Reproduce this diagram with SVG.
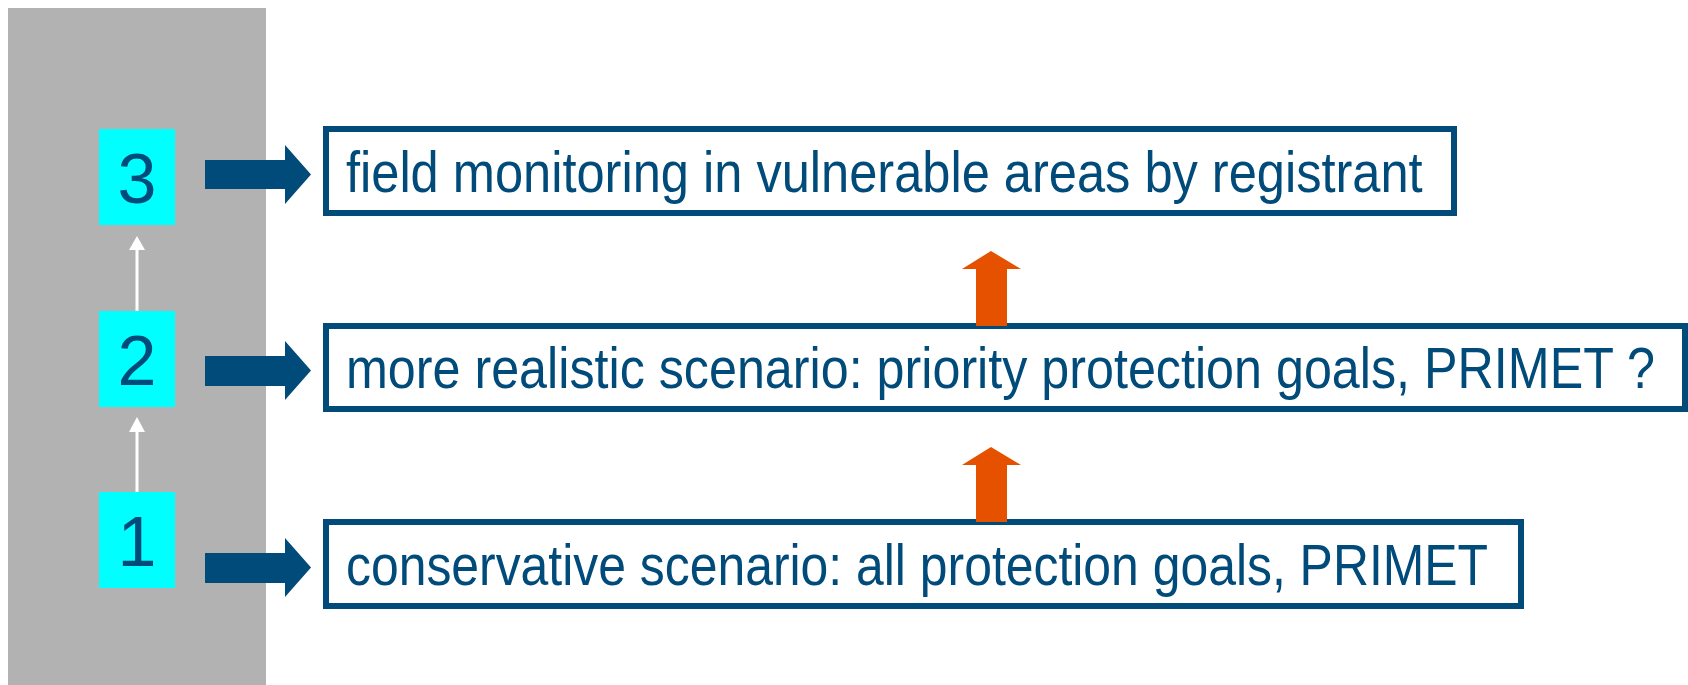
<svg xmlns="http://www.w3.org/2000/svg" width="1688" height="685" viewBox="0 0 1688 685">
  <style>
    .step rect { fill: #00FFFF; }
    .step text { font-family: "Liberation Sans", Arial, sans-serif; font-size: 70px; fill: #004B7A; text-anchor: middle; }
    .box rect { fill: #FFFFFF; stroke: #004B7A; stroke-width: 6; }
    .box text { font-family: "Liberation Sans", Arial, sans-serif; font-size: 57px; fill: #004B7A; }
    .blue { fill: #004B7A; }
    .orange { fill: #E65100; }
    .white { fill: #FFFFFF; }
  </style>

  <!-- grey side band -->
  <rect x="8" y="8" width="258" height="677" fill="#B2B2B2"/>

  <!-- step markers -->
  <g id="step3" class="step">
    <rect x="99" y="129" width="76" height="96"/>
    <text x="137" y="203">3</text>
  </g>
  <g id="step2" class="step">
    <rect x="99" y="311" width="76" height="96"/>
    <text x="137" y="385">2</text>
  </g>
  <g id="step1" class="step">
    <rect x="99" y="492" width="76" height="96"/>
    <text x="137" y="566">1</text>
  </g>

  <!-- scenario boxes; labels are set in a horizontally condensed face -->
  <g id="scenario3" class="box">
    <rect x="326" y="129" width="1128" height="84"/>
    <text transform="scale(0.86,1)" x="402.3" y="192" textLength="1252" lengthAdjust="spacingAndGlyphs">field monitoring in vulnerable areas by registrant</text>
  </g>
  <g id="scenario2" class="box">
    <rect x="326" y="326" width="1359" height="83"/>
    <text transform="scale(0.86,1)" x="402.3" y="388" textLength="1522" lengthAdjust="spacingAndGlyphs">more realistic scenario: priority protection goals, PRIMET ?</text>
  </g>
  <g id="scenario1" class="box">
    <rect x="326" y="522" width="1195" height="84"/>
    <text transform="scale(0.86,1)" x="402.3" y="585" textLength="1328" lengthAdjust="spacingAndGlyphs">conservative scenario: all protection goals, PRIMET</text>
  </g>

  <!-- connectors -->
  <g id="connectors">
    <!-- step to scenario block arrows -->
    <polygon class="blue" points="205,160 285,160 285,145 311,174.5 285,204 285,189 205,189"/>
    <polygon class="blue" points="205,356 285,356 285,341 311,370.5 285,400 285,386 205,386"/>
    <polygon class="blue" points="205,553 285,553 285,538 311,567.5 285,597 285,583 205,583"/>
    <!-- escalation between steps -->
    <rect class="white" x="135.5" y="250" width="3" height="61"/>
    <polygon class="white" points="137,236 145,250 129,250"/>
    <rect class="white" x="135.5" y="432" width="3" height="60"/>
    <polygon class="white" points="137,417 145,432 129,432"/>
    <!-- escalation between scenarios -->
    <polygon class="orange" points="991,251 1021,269 1007,269 1007,326 976,326 976,269 962,269"/>
    <polygon class="orange" points="991,447 1021,465 1007,465 1007,522 976,522 976,465 962,465"/>
  </g>
</svg>
